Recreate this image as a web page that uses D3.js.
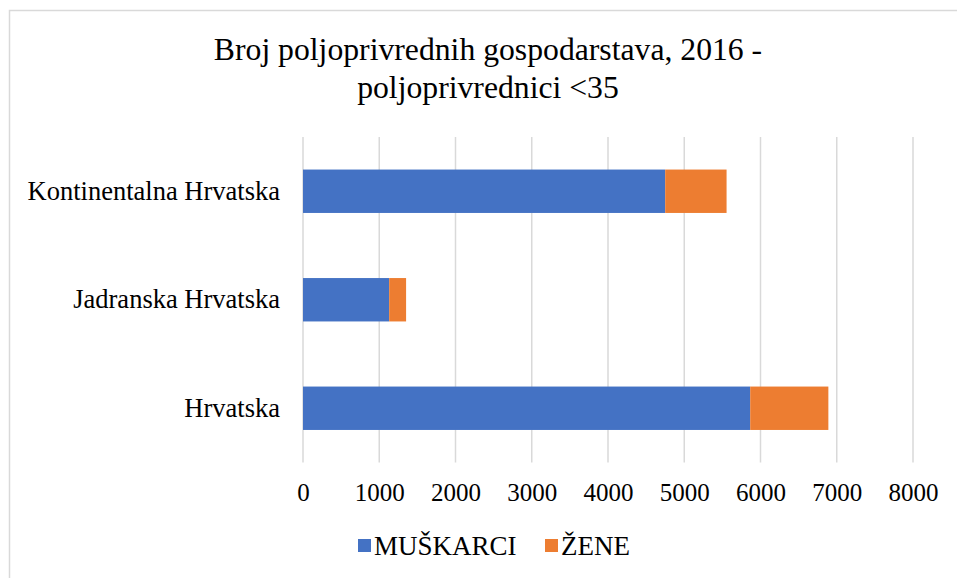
<!DOCTYPE html>
<html lang="hr">
<head>
<meta charset="UTF-8">
<title>Broj poljoprivrednih gospodarstava, 2016</title>
<script src="https://d3js.org/d3.v7.min.js"></script>
<style>
  html, body { margin: 0; padding: 0; background: #fff; }
  svg { display: block; font-family: "Liberation Serif", "Times New Roman", serif; }
</style>
</head>
<body>
<svg id="chart" width="957" height="578"></svg>
<script>
// data
const regions = ["Kontinentalna Hrvatska", "Jadranska Hrvatska", "Hrvatska"];
const muskarci = [4750, 1130, 5865];
const zene = [805, 222, 1025];
const seriesNames = ["MUŠKARCI", "ŽENE"];
const seriesColors = ["#4472C4", "#ED7D31"];
const xTicks = [0, 1000, 2000, 3000, 4000, 5000, 6000, 7000, 8000];
const titleLines = ["Broj poljoprivrednih gospodarstava, 2016 -", "poljoprivrednici <35"];

const FONT = "'Liberation Serif', 'Times New Roman', serif";
const svg = d3.select("#chart");
const W = 957, H = 578;
const margin = {top: 137, left: 303};
const width = 913 - margin.left, height = 462.5 - margin.top;

// outer chart border (chart area runs off the right/bottom of the picture)
svg.append("rect")
  .attr("x", 9.5).attr("y", 10.5)
  .attr("width", W + 20).attr("height", H + 20)
  .attr("fill", "#fff").attr("stroke", "#d9d9d9").attr("stroke-width", 1.5);

// title
svg.append("text")
  .attr("x", 488).attr("y", 60)
  .attr("text-anchor", "middle")
  .attr("font-size", 31.7).attr("fill", "#000")
  .selectAll("tspan")
  .data(titleLines)
  .join("tspan")
  .attr("x", 488)
  .attr("dy", (d, i) => i === 0 ? 0 : 38)
  .text(d => d);

const rows = regions.map((r, i) => ({region: r, values: [muskarci[i], zene[i]]}));
const stack = d3.stack().keys([0, 1]).value((d, k) => d.values[k]);
const stacked = stack(rows);

const x = d3.scaleLinear().domain([0, 8000]).range([0, width]);
const y = d3.scaleBand().domain(regions).range([0, height]).paddingInner(0.6).paddingOuter(0.3);

const g = svg.append("g").attr("transform", `translate(${margin.left},${margin.top})`);

// vertical gridlines
g.append("g")
  .selectAll("line")
  .data(xTicks)
  .join("line")
  .attr("x1", d => x(d)).attr("x2", d => x(d))
  .attr("y1", 0).attr("y2", height)
  .attr("stroke", "#d9d9d9").attr("stroke-width", 1.5);

// bottom axis labels
const xAxis = g.append("g")
  .attr("transform", `translate(0,${height})`)
  .call(d3.axisBottom(x).tickValues(xTicks).tickSize(0).tickPadding(21).tickFormat(d3.format("d")));
xAxis.attr("font-family", FONT).attr("font-size", 25);
xAxis.select(".domain").remove();
xAxis.selectAll("text").attr("fill", "#000");

// left axis labels
const yAxis = g.append("g")
  .call(d3.axisLeft(y).tickSize(0).tickPadding(23));
yAxis.attr("font-family", FONT).attr("font-size", 26.5);
yAxis.select(".domain").remove();
yAxis.selectAll("text").attr("fill", "#000");

// bars
g.selectAll("g.series")
  .data(stacked)
  .join("g")
  .attr("class", "series")
  .attr("fill", (d, i) => seriesColors[i])
  .selectAll("rect")
  .data(d => d)
  .join("rect")
  .attr("x", d => x(d[0]))
  .attr("y", d => y(d.data.region))
  .attr("width", d => x(d[1]) - x(d[0]))
  .attr("height", y.bandwidth());

// legend
const legendX = [358, 545];
const legend = svg.append("g")
  .selectAll("g")
  .data(seriesNames)
  .join("g")
  .attr("transform", (d, i) => `translate(${legendX[i]},539)`);
legend.append("rect")
  .attr("width", 13).attr("height", 13)
  .attr("fill", (d, i) => seriesColors[i]);
legend.append("text")
  .attr("x", 16).attr("y", 16)
  .attr("font-size", 27).attr("fill", "#000")
  .text(d => d);
</script>
</body>
</html>
